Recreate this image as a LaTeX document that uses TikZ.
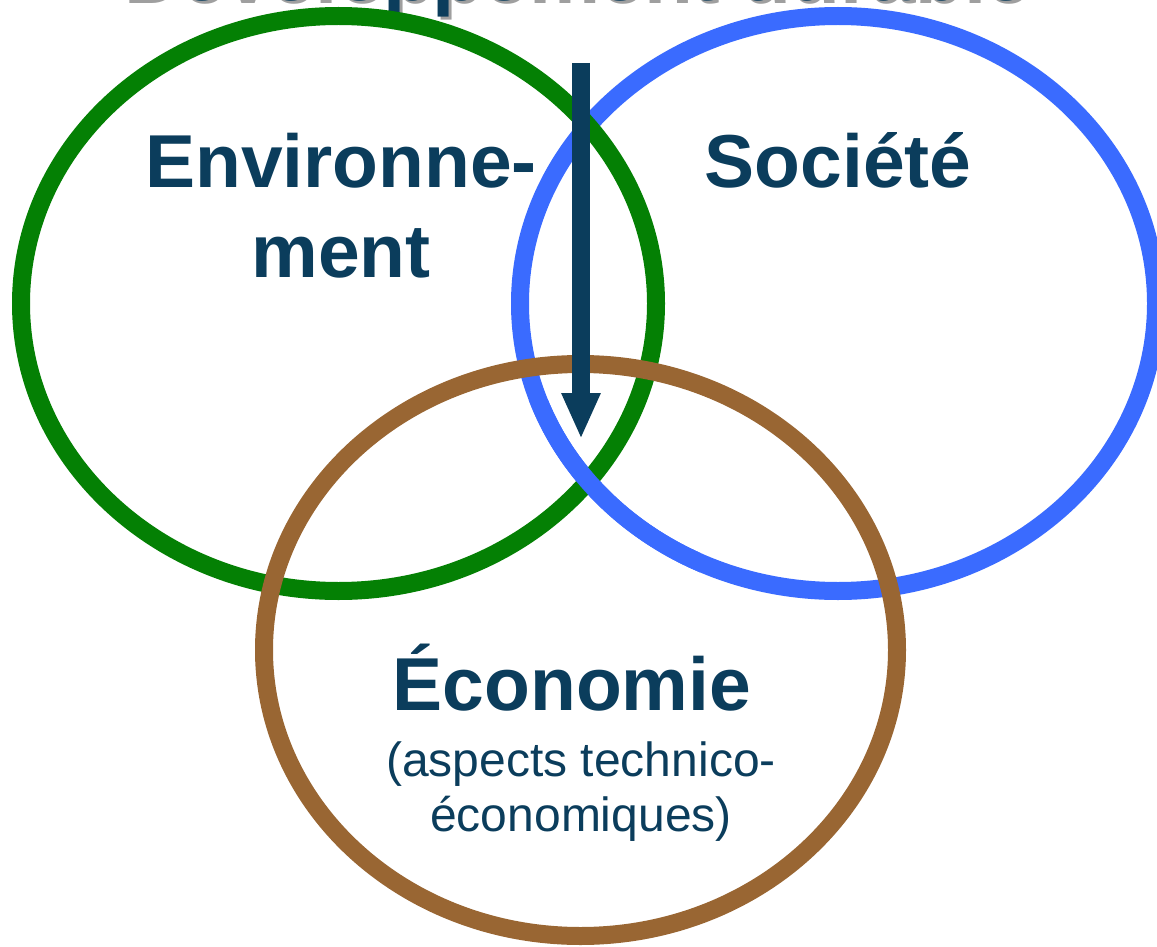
\documentclass[tikz,border=0pt]{standalone}
\usepackage{fontspec}
\setmainfont{Liberation Sans}
\usepackage{tikz}
\usetikzlibrary{arrows.meta}
\definecolor{ttnavy}{RGB}{11,61,92}
\definecolor{envgreen}{RGB}{4,128,4}
\definecolor{socblue}{RGB}{58,107,255}
\definecolor{ecobrown}{RGB}{153,102,51}
\tikzset{
  ring/.style={line width=9pt},
  bigword/.style={font=\fontsize{37.5}{45}\selectfont\bfseries,text=ttnavy,align=center,inner sep=0pt},
  smallword/.style={font=\fontsize{24}{27.5}\selectfont,text=ttnavy,align=center,inner sep=0pt}
}

\begin{document}
\begin{tikzpicture}[line cap=round,line join=round,x=0.5pt,y=-0.5pt]
		\useasboundingbox (0,0) rectangle (1157,947);
		% title, mostly above the page
		\node[bigword,font=\fontsize{40}{48}\selectfont\bfseries,text=gray!75,anchor=base] (titleshadow) at (578,4) {Développement durable};
		\node[bigword,font=\fontsize{40}{48}\selectfont\bfseries,anchor=base] (title) at (575,1) {Développement durable};
		% the three rings
		\draw [ring,color=socblue] (838,303.5) ellipse [x radius=318,y radius=287.5];
		\draw [ring,color=envgreen] (338.5,303.5) ellipse [x radius=317.5,y radius=287.5];
		\begin{scope}
			\clip (480,400) rectangle (700,580);
			\draw [ring,color=socblue] (838,303.5) ellipse [x radius=318,y radius=287.5];
		\end{scope}
		\draw [ring,color=ecobrown] (580.5,650) ellipse [x radius=316.5,y radius=286];
		% labels (base = last line)
		\node[bigword,anchor=base] (env) at (341,277) {Environne-\\ment};
		\node[bigword,anchor=base] (soc) at (838,187) {Société};
		\node[bigword,anchor=base] (eco) at (572,710) {Économie};
		\node[smallword,anchor=base] (ecosub) at (581,831) {(aspects technico-\\économiques)};
		% arrow
		\coordinate (arrtop) at (581,63);
		\coordinate (arrtip) at (581,439);
		\draw [line width=9pt,color=ttnavy,line cap=butt,-{Triangle[width=18pt,length=23pt]}] (arrtop) -- (arrtip);
\end{tikzpicture}
\end{document}
